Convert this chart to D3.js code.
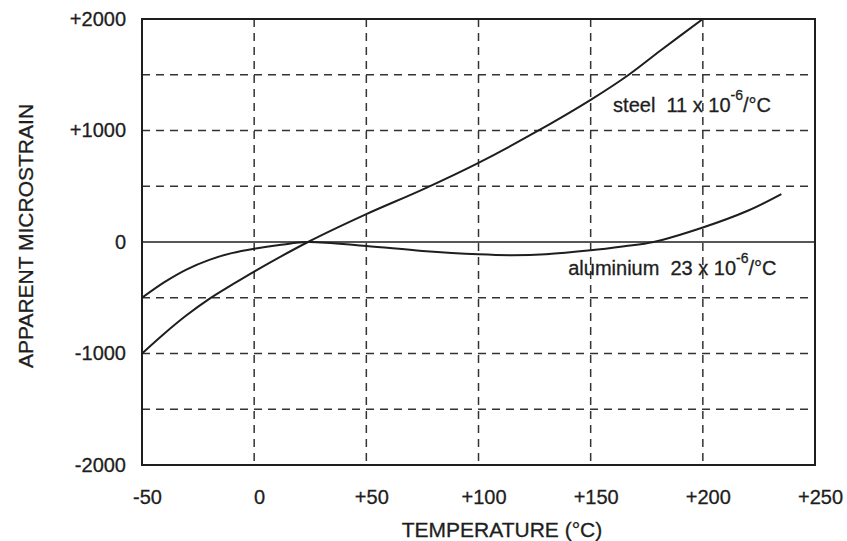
<!DOCTYPE html>
<html>
<head>
<meta charset="utf-8">
<script src="https://cdn.jsdelivr.net/npm/d3@7"></script>
<style>
  body { margin: 0; background: #fff; }
  svg { display: block; font-family: "Liberation Sans", Arial, Helvetica, sans-serif; }
</style>
</head>
<body>
<div id="chart"></div>
<script>
// Apparent microstrain vs temperature (steel / aluminium)
const steelTemps  = [-50, -40, -30, -20, -10, 0, 24, 50, 75, 100, 125, 150, 167, 181, 200];
const steelStrain = [-1000, -820, -655, -510, -385, -265, 0, 250, 470, 710, 980, 1275, 1500, 1715, 2000];

const aluTemps  = [-50, -40, -30, -20, -10, 0, 12, 24, 50, 75, 100, 115, 130, 150, 165, 178, 200, 220, 235];
const aluStrain = [-500, -360, -245, -160, -100, -60, -25, 0, -36, -80, -110, -118, -110, -75, -38, 0, 130, 280, 430];

const xTicks = [-50, 0, 50, 100, 150, 200, 250];
const xTickLabels = ['-50', '0', '+50', '+100', '+150', '+200', '+250'];
const yTicks = [-2000, -1000, 0, 1000, 2000];
const yTickLabels = ['-2000', '-1000', '0', '+1000', '+2000'];
const xGrid = [0, 50, 100, 150, 200];
const yGrid = [-1500, -1000, -500, 500, 1000, 1500];

const width = 847, height = 541;
const margin = { top: 19, right: 32, bottom: 76, left: 142 };
const ink = '#1e1e1e';

const svg = d3.select('#chart').append('svg')
  .attr('width', width)
  .attr('height', height);

const x = d3.scaleLinear().domain([-50, 250]).range([margin.left, width - margin.right]);
const y = d3.scaleLinear().domain([-2000, 2000]).range([height - margin.bottom, margin.top]);

// dashed grid
const grid = svg.append('g')
  .attr('stroke', '#333')
  .attr('stroke-width', 1.5)
  .attr('stroke-dasharray', '8,6');

grid.selectAll('.vgrid').data(xGrid).enter().append('line')
  .attr('x1', d => x(d)).attr('x2', d => x(d))
  .attr('y1', y(2000)).attr('y2', y(-2000));

grid.selectAll('.hgrid').data(yGrid).enter().append('line')
  .attr('x1', x(-50)).attr('x2', x(250))
  .attr('y1', d => y(d)).attr('y2', d => y(d));

// solid zero line
svg.append('line')
  .attr('x1', x(-50)).attr('x2', x(250))
  .attr('y1', y(0)).attr('y2', y(0))
  .attr('stroke', ink)
  .attr('stroke-width', 1.5);

// clip curves to plot frame
svg.append('clipPath').attr('id', 'plot-clip')
  .append('rect')
  .attr('x', x(-50)).attr('y', y(2000))
  .attr('width', x(250) - x(-50))
  .attr('height', y(-2000) - y(2000));

const line = d3.line()
  .x(d => x(d[0]))
  .y(d => y(d[1]))
  .curve(d3.curveCatmullRom.alpha(0.5));

const curves = svg.append('g').attr('clip-path', 'url(#plot-clip)');

curves.append('path')
  .datum(d3.zip(steelTemps, steelStrain))
  .attr('d', line)
  .attr('fill', 'none')
  .attr('stroke', ink)
  .attr('stroke-width', 2);

curves.append('path')
  .datum(d3.zip(aluTemps, aluStrain))
  .attr('d', line)
  .attr('fill', 'none')
  .attr('stroke', ink)
  .attr('stroke-width', 2);

// frame
svg.append('rect')
  .attr('x', x(-50)).attr('y', y(2000))
  .attr('width', x(250) - x(-50))
  .attr('height', y(-2000) - y(2000))
  .attr('fill', 'none')
  .attr('stroke', ink)
  .attr('stroke-width', 2);

// axes (labels only)
const xAxis = d3.axisBottom(x)
  .tickValues(xTicks)
  .tickFormat((d, i) => xTickLabels[i])
  .tickSize(0)
  .tickPadding(25);

const yAxis = d3.axisLeft(y)
  .tickValues(yTicks)
  .tickFormat((d, i) => yTickLabels[i])
  .tickSize(0)
  .tickPadding(16);

const gx = svg.append('g')
  .attr('transform', `translate(0,${y(-2000)})`)
  .call(xAxis);

const gy = svg.append('g')
  .attr('transform', `translate(${x(-50)},0)`)
  .call(yAxis);

[gx, gy].forEach(g => {
  g.select('.domain').remove();
  g.attr('font-family', null).attr('font-size', null);
  g.selectAll('text')
    .attr('fill', ink)
    .attr('stroke', ink)
    .attr('stroke-width', 0.3)
    .style('font-size', '20px');
});
gx.selectAll('text').attr('dx', 5);

// axis titles
svg.append('text')
  .attr('x', 502)
  .attr('y', 537)
  .attr('text-anchor', 'middle')
  .attr('fill', ink)
  .attr('stroke', ink)
  .attr('stroke-width', 0.3)
  .style('font-size', '21px')
  .text('TEMPERATURE (°C)');

svg.append('text')
  .attr('transform', `translate(33,236) rotate(-90)`)
  .attr('text-anchor', 'middle')
  .attr('fill', ink)
  .attr('stroke', ink)
  .attr('stroke-width', 0.3)
  .style('font-size', '21px')
  .text('APPARENT MICROSTRAIN');

// curve annotations
function annotate(tx, ty, main) {
  const t = svg.append('text')
    .attr('x', x(tx))
    .attr('y', y(ty))
    .attr('fill', ink)
    .attr('stroke', ink)
    .attr('stroke-width', 0.3)
    .style('font-size', '20px')
    .attr('xml:space', 'preserve');
  t.append('tspan').text(main);
  t.append('tspan').attr('dy', -12).style('font-size', '14px').text('-6');
  t.append('tspan').attr('dy', 12).attr('dx', 0).text('/°C');
}

annotate(160, 1170, 'steel  11 x 10');
annotate(140, -295, 'aluminium  23 x 10');
</script>
</body>
</html>
